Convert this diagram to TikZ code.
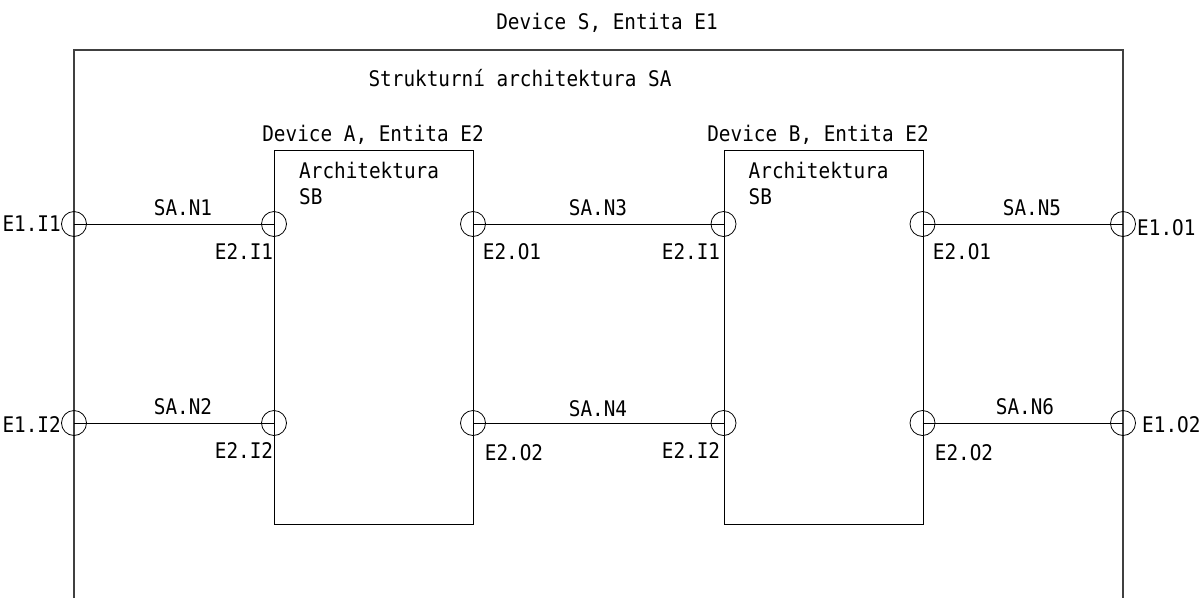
\documentclass[tikz,border=0pt]{standalone}
\usepackage{fontspec}
\setmainfont{DejaVu Sans Mono}[FakeStretch=0.9]
\begin{document}
\begin{tikzpicture}[x=1pt,y=-1pt,
  port/.style={draw, circle, minimum size=25pt, inner sep=0pt, line width=0.8pt},
  devbox/.style={draw, line width=1pt, anchor=north west, inner sep=0pt, minimum width=199pt, minimum height=374pt},
  lbl/.style={inner sep=0pt, font=\fontsize{21.5}{26}\selectfont},
  wire/.style={line width=1pt},
  frame/.style={draw=black!75, line width=1.5pt}]
\useasboundingbox (0,0) rectangle (1204,598);
% outer frame (open at the bottom)
\coordinate (fbl) at (74,598);
\coordinate (ftl) at (74,50);
\coordinate (ftr) at (1123,50);
\coordinate (fbr) at (1123,598);
\draw[frame] (fbl) -- (ftl) -- (ftr) -- (fbr);
% device boxes
\node[devbox] (boxA) at (274,150) {};
\node[devbox] (boxB) at (723.5,150) {};
% ports
\node[port] (e1i1) at (74,224) {};
\node[port] (e1i2) at (74,423) {};
\node[port] (ai1) at (274,224) {};
\node[port] (ai2) at (274,423) {};
\node[port] (ao1) at (473,224) {};
\node[port] (ao2) at (473,423) {};
\node[port] (bi1) at (723.5,224) {};
\node[port] (bi2) at (723.5,423) {};
\node[port] (bo1) at (922.5,224) {};
\node[port] (bo2) at (922.5,423) {};
\node[port] (e1o1) at (1123,224) {};
\node[port] (e1o2) at (1123,423) {};
% wires
\draw[wire] (e1i1.center) -- (ai1.center);
\draw[wire] (e1i2.center) -- (ai2.center);
\draw[wire] (ao1.center) -- (bi1.center);
\draw[wire] (ao2.center) -- (bi2.center);
\draw[wire] (bo1.center) -- (e1o1.center);
\draw[wire] (bo2.center) -- (e1o2.center);
% titles
\node[lbl] (tS) at (607,23) {Device S, Entita E1};
\node[lbl] (tSA) at (520,78) {Strukturní architektura SA};
\node[lbl] (tA) at (373,135) {Device A, Entita E2};
\node[lbl] (tB) at (818,135) {Device B, Entita E2};
\node[lbl, anchor=west] (archA) at (299,170) {Architektura};
\node[lbl, anchor=west] (sbA) at (299,197) {SB};
\node[lbl, anchor=west] (archB) at (748.5,170) {Architektura};
\node[lbl, anchor=west] (sbB) at (748.5,197) {SB};
% wire labels
\node[lbl] (n1) at (183,208) {SA.N1};
\node[lbl] (n2) at (183,407) {SA.N2};
\node[lbl] (n3) at (598,208) {SA.N3};
\node[lbl] (n4) at (598,409) {SA.N4};
\node[lbl] (n5) at (1032,208) {SA.N5};
\node[lbl] (n6) at (1025,407) {SA.N6};
% port labels
\node[lbl, anchor=east] (le1i1) at (61,224) {E1.I1};
\node[lbl, anchor=east] (le1i2) at (61,425) {E1.I2};
\node[lbl] (lai1) at (244,252) {E2.I1};
\node[lbl] (lai2) at (244,451) {E2.I2};
\node[lbl] (lao1) at (512,252) {E2.O1};
\node[lbl] (lao2) at (514,453) {E2.O2};
\node[lbl] (lbi1) at (691,252) {E2.I1};
\node[lbl] (lbi2) at (691,451) {E2.I2};
\node[lbl] (lbo1) at (962,252) {E2.O1};
\node[lbl] (lbo2) at (964,453) {E2.O2};
\node[lbl, anchor=west] (le1o1) at (1137,228) {E1.O1};
\node[lbl, anchor=west] (le1o2) at (1142,425) {E1.O2};
\end{tikzpicture}
\end{document}
